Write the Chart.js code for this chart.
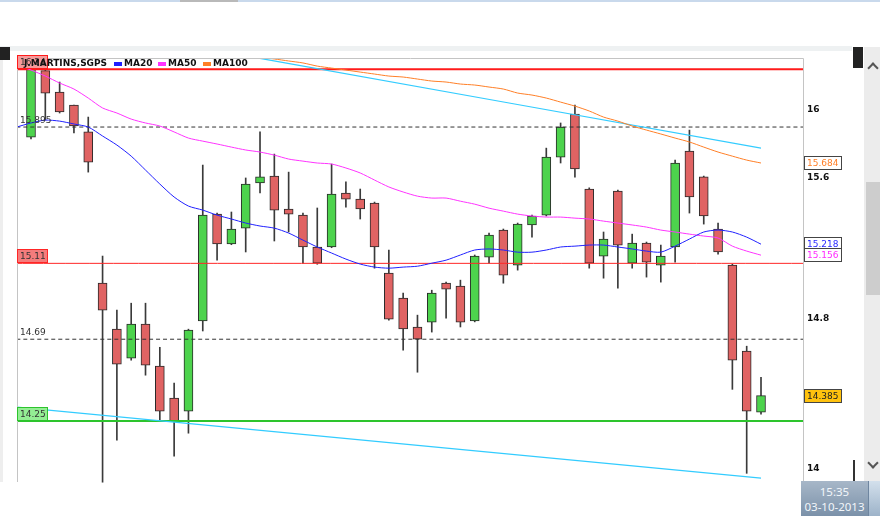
<!DOCTYPE html>
<html>
<head>
<meta charset="utf-8">
<script src="https://cdn.jsdelivr.net/npm/chart.js@4.4.0/dist/chart.umd.min.js"></script>
<style>
  body { margin: 0; background: #fff; width: 880px; height: 516px; overflow: hidden; position: relative; font-family: "DejaVu Sans", sans-serif; }
  #chart { position: absolute; left: 0; top: 0; }
  .abs { position: absolute; }
  .clock { left: 801px; top: 481px; width: 67px; height: 35px; background: linear-gradient(#a7b7c8, #7b91a9); color: #f2f6fa;
           font: 11.5px "Noto Sans", sans-serif; text-align: center; line-height: 15px; padding-top: 3px; box-sizing: border-box; }
</style>
</head>
<body>
<canvas id="chart" width="880" height="516"></canvas>

<div class="abs" style="left:0;top:0;width:880px;height:2px;background:#c9d9ec"></div>
<div class="abs" style="left:180px;top:0;width:58px;height:2px;background:#b9b9b9"></div>
<div class="abs" style="left:0;top:46px;width:852px;height:5px;background:#eef1f2"></div>
<div class="abs" style="left:0;top:47px;width:10px;height:13px;background:#222"></div>
<div class="abs" style="left:0;top:60px;width:3px;height:422px;background:#eeeeee"></div>
<div class="abs" style="left:864px;top:47px;width:16px;height:434px;background:#ececec"></div>
<div class="abs" style="left:866px;top:182px;width:14px;height:113px;background:#cdcdcd"></div>
<div class="abs" style="left:869px;top:64px;width:6px;height:6px;border-left:2px solid #555;border-top:2px solid #555;transform:rotate(45deg)"></div>
<div class="abs" style="left:869px;top:459px;width:6px;height:6px;border-right:2px solid #555;border-bottom:2px solid #555;transform:rotate(45deg)"></div>
<div class="abs" style="left:853px;top:47px;width:10px;height:21px;background:#222"></div>
<div class="abs" style="left:853px;top:460px;width:2px;height:21px;background:#333"></div>
<div class="abs clock">15:35<br>03-10-2013</div>
<div class="abs" style="left:868px;top:481px;width:12px;height:35px;background:linear-gradient(#d3e0ec,#9db3c9);border-left:1px solid #6f86a0"></div>

<script>
// candles, oldest first (index 0 .. 51)
const opens  = [15.836, 16.232, 16.103, 16.025, 15.866, 14.999, 14.746, 14.587, 14.773, 14.544, 14.372, 14.303, 14.790,
                15.389, 15.219, 15.309, 15.568, 15.608, 15.418, 15.383, 15.202, 15.202, 15.510, 15.475, 15.452, 15.055,
                14.916, 14.757, 14.784, 14.999, 14.983, 14.790, 15.145, 15.298, 15.100, 15.327, 15.383, 15.718, 15.972,
                15.533, 15.151, 15.521, 15.111, 15.224, 15.100, 15.202, 15.754, 15.603, 15.304, 15.100, 14.625, 14.297];
const highs  = [16.28, 16.26, 16.163, 16.025, 15.954, 15.151, 14.850, 14.888, 14.888, 14.646, 14.452, 14.745, 15.672,
                15.395, 15.401, 15.597, 15.866, 15.736, 15.631, 15.395, 15.424, 15.678, 15.574, 15.533, 15.458, 15.185,
                14.944, 14.822, 14.960, 15.005, 15.016, 15.157, 15.281, 15.304, 15.338, 15.383, 15.771, 15.919, 16.025,
                15.540, 15.287, 15.527, 15.275, 15.230, 15.213, 15.701, 15.877, 15.608, 15.338, 15.105, 14.652, 14.484];
const lows   = [15.825, 15.936, 15.978, 15.860, 15.631, 13.93, 14.149, 14.576, 14.495, 14.255, 14.065, 14.186, 14.735,
                15.128, 15.215, 15.174, 15.510, 15.236, 15.287, 15.111, 15.105, 15.198, 15.429, 15.361, 15.083, 14.795,
                14.630, 14.511, 14.729, 14.806, 14.757, 14.785, 15.111, 14.999, 15.072, 15.258, 15.378, 15.684, 15.602,
                15.083, 15.027, 14.971, 15.083, 15.033, 15.005, 15.117, 15.395, 15.332, 15.162, 14.419, 13.976, 14.286];
const closes = [16.24, 16.097, 15.984, 15.901, 15.689, 14.850, 14.554, 14.773, 14.549, 14.303, 14.250, 14.740, 15.383,
                15.219, 15.304, 15.562, 15.603, 15.412, 15.389, 15.202, 15.111, 15.504, 15.475, 15.418, 15.202, 14.800,
                14.746, 14.690, 14.944, 14.966, 14.784, 15.151, 15.270, 15.044, 15.332, 15.378, 15.718, 15.895, 15.649,
                15.111, 15.247, 15.213, 15.224, 15.117, 15.151, 15.684, 15.487, 15.378, 15.174, 14.576, 14.303, 14.385];

// moving averages, index -1 .. 51
const maStart = -1;
const ma20  = [15.895, 15.919, 15.936, 15.930, 15.913, 15.895, 15.842, 15.789, 15.724, 15.643, 15.562, 15.487, 15.435,
               15.412, 15.383, 15.361, 15.338, 15.321, 15.309, 15.281, 15.241, 15.202, 15.168, 15.134, 15.106, 15.089,
               15.083, 15.089, 15.094, 15.111, 15.128, 15.157, 15.185, 15.191, 15.185, 15.173, 15.173, 15.185, 15.202,
               15.207, 15.213, 15.213, 15.202, 15.191, 15.179, 15.173, 15.207, 15.247, 15.287, 15.298, 15.287, 15.258, 15.218];
const ma50  = [16.265, 16.235, 16.199, 16.157, 16.121, 16.067, 16.008, 15.978, 15.942, 15.919, 15.901, 15.866, 15.830,
               15.812, 15.795, 15.777, 15.760, 15.748, 15.730, 15.707, 15.695, 15.684, 15.678, 15.655, 15.626, 15.585,
               15.545, 15.516, 15.492, 15.481, 15.481, 15.463, 15.446, 15.423, 15.406, 15.389, 15.378, 15.372, 15.372,
               15.366, 15.361, 15.349, 15.338, 15.327, 15.315, 15.298, 15.287, 15.275, 15.264, 15.253, 15.207, 15.179, 15.156];
const ma100 = [16.308, 16.308, 16.314, 16.320, 16.320, 16.314, 16.314, 16.320, 16.326, 16.332, 16.332, 16.332, 16.332,
               16.332, 16.326, 16.326, 16.320, 16.314, 16.302, 16.290, 16.278, 16.259, 16.247, 16.235, 16.223, 16.211,
               16.199, 16.193, 16.181, 16.169, 16.163, 16.151, 16.145, 16.133, 16.121, 16.097, 16.085, 16.067, 16.043,
               16.019, 15.990, 15.954, 15.930, 15.901, 15.877, 15.854, 15.830, 15.807, 15.777, 15.748, 15.724, 15.701, 15.684];

// trend lines (two points each)
const upperTrendX = [15.8, 51];
const upperTrendY = [16.309, 15.771];
const lowerTrendX = [-0.98, 51];
const lowerTrendY = [14.324, 13.951];

// horizontal levels
const levelValues = [16.24, 15.895, 15.11, 14.69, 14.25];
const levelLabels = ['16.24', '15.895', '15.11', '14.69', '14.25'];

// last values shown on the right
const lastValues = [15.684, 15.218, 15.156, 14.385];
const lastLabels = ['15.684', '15.218', '15.156', '14.385'];

const tickValues = [14, 14.8, 15.6, 16];
const legendNames = ['MA20', 'MA50', 'MA100'];
const title = 'J.MARTINS,SGPS';
const yMin = 13.93, yMax = 16.308;

const GREEN = '#4dd34d', RED = '#e06363';
const levelStyles = [
  { color: '#ff1a1a', width: 2, dash: [], box: '#f59a9a' },
  { color: '#333333', width: 1, dash: [4, 3], box: null },
  { color: '#ff2626', width: 1, dash: [], box: '#f47c7c' },
  { color: '#333333', width: 1, dash: [4, 3], box: null },
  { color: '#2dc42d', width: 2, dash: [], box: '#94ee94' },
];
const lastStyles = [
  { text: '#ff7f27', fill: '#ffffff' },
  { text: '#2b2bff', fill: '#ffffff' },
  { text: '#ff2bff', fill: '#ffffff' },
  { text: '#222222', fill: '#ffc20e' },
];
const maColors = ['#2020ff', '#ff33ff', '#ff7f27'];

const idx = (arr, start) => arr.map((v, i) => ({ x: i + start, y: v }));
const isUp = (i) => closes[i] >= opens[i];

const lineSet = (data, color, width, dash) => ({
  type: 'line', data, borderColor: color, borderWidth: width, borderDash: dash || [],
  pointRadius: 0, tension: 0.25, order: 0, fill: false,
});

const datasets = [
  {
    type: 'bar', order: 1, grouped: false, barThickness: 9,
    data: opens.map((o, i) => ({ x: i, y: [o, closes[i]] })),
    backgroundColor: (c) => isUp(c.dataIndex) ? GREEN : RED,
    borderColor: '#2a2a2a', borderWidth: 1, borderSkipped: false,
  },
  {
    type: 'bar', order: 2, grouped: false, barThickness: 1,
    data: lows.map((l, i) => ({ x: i, y: [l, highs[i]] })),
    backgroundColor: '#3a3a3a', borderWidth: 0,
  },
  lineSet(idx(ma20, maStart), maColors[0], 1),
  lineSet(idx(ma50, maStart), maColors[1], 1),
  lineSet(idx(ma100, maStart), maColors[2], 1),
  lineSet(upperTrendX.map((x, i) => ({ x, y: upperTrendY[i] })), '#33ccff', 1.2),
  lineSet(lowerTrendX.map((x, i) => ({ x, y: lowerTrendY[i] })), '#33ccff', 1.2),
  ...levelValues.map((v, i) => lineSet([{ x: -2, y: v }, { x: 56, y: v }],
      levelStyles[i].color, levelStyles[i].width, levelStyles[i].dash)),
];

const overlay = {
  id: 'overlay',
  afterDraw(chart) {
    const { ctx, chartArea: a, scales: { y } } = chart;
    const bottom = Math.round(y.getPixelForValue(yMin));
    ctx.save();

    // plot frame
    ctx.strokeStyle = '#c4c4c4';
    ctx.lineWidth = 1;
    ctx.beginPath();
    ctx.moveTo(a.left + 0.5, bottom);
    ctx.lineTo(a.left + 0.5, a.top + 0.5);
    ctx.lineTo(a.right + 0.5, a.top + 0.5);
    ctx.lineTo(a.right + 0.5, bottom);
    ctx.stroke();

    // level labels on the left
    ctx.font = '9px "DejaVu Sans"';
    ctx.textBaseline = 'middle';
    ctx.textAlign = 'left';
    levelValues.forEach((v, i) => {
      const py = Math.round(y.getPixelForValue(v));
      const st = levelStyles[i];
      if (st.box) {
        ctx.fillStyle = st.box;
        ctx.fillRect(a.left, py - 14, 31, 14);
        ctx.strokeStyle = st.color;
        ctx.strokeRect(a.left + 0.5, py - 13.5, 30, 13);
      }
      ctx.fillStyle = '#333';
      ctx.fillText(levelLabels[i], a.left + 3, py - 6);
    });

    // last value boxes on the right
    lastValues.forEach((v, i) => {
      const py = Math.round(y.getPixelForValue(v));
      ctx.fillStyle = lastStyles[i].fill;
      ctx.fillRect(804, py - 7, 38, 14);
      ctx.strokeStyle = '#444';
      ctx.strokeRect(804.5, py - 6.5, 37, 13);
      ctx.fillStyle = lastStyles[i].text;
      ctx.fillText(lastLabels[i], 807, py + 0.5);
    });

    // legend
    ctx.font = 'bold 9px "DejaVu Sans"';
    ctx.fillStyle = '#111';
    ctx.fillText(title, 24, 64);
    const sq = [114, 158, 203];
    legendNames.forEach((n, i) => {
      ctx.fillStyle = maColors[i];
      ctx.fillRect(sq[i], 62, 8, 4);
      ctx.fillStyle = '#111';
      ctx.fillText(n, sq[i] + 10, 64);
    });
    ctx.restore();
  }
};

new Chart(document.getElementById('chart'), {
  type: 'bar',
  data: { datasets },
  options: {
    responsive: false,
    animation: false,
    events: [],
    devicePixelRatio: 1,
    layout: { padding: { left: 17, top: 58, right: 0, bottom: 28 } },
    plugins: { legend: { display: false }, tooltip: { enabled: false } },
    scales: {
      x: { type: 'linear', min: -0.978, max: 53.934, offset: false, display: false },
      y: {
        type: 'logarithmic', position: 'right', min: yMin, max: yMax,
        grid: { display: false, drawTicks: false },
        border: { display: false },
        afterBuildTicks: (s) => { s.ticks = tickValues.map((v) => ({ value: v })); },
        afterFit: (s) => { s.width = 77; },
        ticks: {
          padding: 4, color: '#111',
          font: { family: 'DejaVu Sans', size: 9, weight: 'bold' },
          callback: (v) => String(v),
        },
      },
    },
  },
  plugins: [overlay],
});
</script>
</body>
</html>
